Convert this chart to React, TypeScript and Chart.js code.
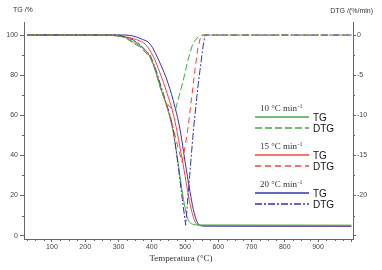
import React, { useEffect, useRef } from 'react';
import { Chart, registerables } from 'chart.js';

Chart.register(...registerables);

// Temperature (°C) / TG (%) for each heating rate
const tempTG10 = [25, 250, 283, 320, 344, 365, 395, 410, 425, 440, 455, 465, 476, 491, 500, 506, 515, 525, 540, 560, 1000];
const tg10 = [100, 100, 99.7, 98.8, 96.5, 94.5, 89, 82.6, 74.5, 67, 58.5, 51, 40, 22.5, 14, 9.5, 6.5, 5.6, 5.3, 5.3, 5.2];

const tempTG15 = [25, 290, 325, 365, 380, 404, 425, 446, 464, 476, 485, 500, 510, 521, 530, 539, 560, 1000];
const tg15 = [100, 100, 99, 97, 95.5, 89.5, 81, 71, 61, 52, 44, 30, 20, 11.5, 7, 5.3, 5, 4.9];

const tempTG20 = [25, 320, 344, 370, 395, 425, 449, 470, 485, 491, 500, 515, 525, 536, 545, 560, 1000];
const tg20 = [100, 100, 99.5, 98, 95.5, 86, 76, 64, 53, 47, 37, 22, 13, 7, 5, 4.7, 4.6];

// Temperature (°C) / DTG (%/min) for each heating rate
const tempDTG10 = [25, 280, 320, 344, 365, 395, 410, 425, 440, 455, 472, 495, 509, 524, 540, 551, 1000];
const dtg10 = [0, 0, -0.3, -1, -1.5, -2.75, -4.3, -6.5, -8.2, -9.0, -9.2, -5.6, -3.1, -1.0, -0.2, 0, 0];

const tempDTG15 = [25, 290, 330, 365, 395, 410, 425, 440, 455, 470, 482, 491, 500, 509, 520, 530, 539, 546, 551, 1000];
const dtg15 = [0, 0, -0.4, -1.2, -2.6, -4.2, -6.3, -8.1, -10.1, -12.5, -14.5, -15.8, -14.0, -11.6, -7.8, -4.3, -1.5, -0.4, 0, 0];

const tempDTG20 = [25, 300, 340, 365, 395, 410, 425, 440, 455, 465, 480, 492, 502, 514, 526, 540, 554, 560, 1000];
const dtg20 = [0, 0, -0.5, -1.2, -2.5, -4.0, -6.0, -8.0, -10.0, -11.8, -16.5, -20.5, -23.7, -17.5, -11.5, -6, -1.5, 0, 0];

const tgTicks = [0, 20, 40, 60, 80, 100];
const dtgTicks = [-20, -15, -10, -5, 0];
const tempLabels = [100, 200, 300, 400, 500, 600, 700, 800, 900];

const rateLabels = ['10 °C min', '15 °C min', '20 °C min'];
const GREEN = '#45a842';
const RED = '#f04444';
const BLUE = '#3434a4';

const toXY = (xs: number[], ys: number[]) => xs.map((x, i) => ({ x, y: ys[i] }));

const annotations = {
  id: 'annotations',
  afterDraw(chart: any) {
    const ctx = chart.ctx;
    const x = chart.scales.x;
    const yl = chart.scales.y;
    const yr = chart.scales.y2;
    ctx.save();
    // minor ticks
    ctx.strokeStyle = '#666';
    ctx.lineWidth = 1;
    ctx.setLineDash([]);
    ctx.beginPath();
    for (let v = 10; v <= 100; v += 20) {
      const p = Math.round(yl.getPixelForValue(v)) + 0.5;
      ctx.moveTo(chart.chartArea.left - 2, p);
      ctx.lineTo(chart.chartArea.left, p);
    }
    for (let v = -22.5; v <= 0; v += 5) {
      const p = Math.round(yr.getPixelForValue(v)) + 0.5;
      ctx.moveTo(chart.chartArea.right, p);
      ctx.lineTo(chart.chartArea.right + 2, p);
    }
    for (let v = 25; v <= 1000; v += 25) {
      if (v % 100 === 0) continue;
      const p = Math.round(x.getPixelForValue(v)) + 0.5;
      ctx.moveTo(p, chart.chartArea.bottom);
      ctx.lineTo(p, chart.chartArea.bottom + 2);
    }
    ctx.stroke();

    // axis titles
    ctx.fillStyle = '#333';
    ctx.font = '7px "Liberation Sans", Arial, sans-serif';
    ctx.textBaseline = 'middle';
    ctx.textAlign = 'left';
    ctx.fillText('TG /%', 13, 10);
    ctx.textAlign = 'right';
    ctx.fillText('DTG /(%/min)', 373, 11);
    ctx.font = '9px "Liberation Serif", "Times New Roman", serif';
    ctx.textAlign = 'center';
    ctx.fillText('Temperatura (°C)', 181, 259);

    // legend
    const colors = [GREEN, RED, BLUE];
    const dashes = [[7, 3], [6, 4], [7, 2, 2, 2]];
    const baseY = [109, 147, 185];
    for (let i = 0; i < 3; i++) {
      const y0 = baseY[i];
      ctx.font = '9px "Liberation Serif", "Times New Roman", serif';
      const main = rateLabels[i];
      const wMain = ctx.measureText(main).width;
      ctx.font = '6px "Liberation Serif", "Times New Roman", serif';
      const wSup = ctx.measureText('-1').width;
      const startX = 281 - (wMain + wSup) / 2;
      ctx.textAlign = 'left';
      ctx.font = '9px "Liberation Serif", "Times New Roman", serif';
      ctx.fillStyle = '#333';
      ctx.fillText(main, startX, y0);
      ctx.font = '6px "Liberation Serif", "Times New Roman", serif';
      ctx.fillText('-1', startX + wMain + 0.5, y0 - 3);

      ctx.strokeStyle = colors[i];
      ctx.lineWidth = 1.4;
      ctx.setLineDash([]);
      ctx.beginPath();
      ctx.moveTo(255, y0 + 8);
      ctx.lineTo(309, y0 + 8);
      ctx.stroke();
      ctx.setLineDash(dashes[i]);
      ctx.beginPath();
      ctx.moveTo(255, y0 + 19);
      ctx.lineTo(309, y0 + 19);
      ctx.stroke();
      ctx.setLineDash([]);

      ctx.font = '10px "Liberation Sans", Arial, sans-serif';
      ctx.fillStyle = '#111';
      ctx.fillText('TG', 313, y0 + 9);
      ctx.fillText('DTG', 313, y0 + 20);
    }
    ctx.restore();
  },
};

export default function App() {
  const ref = useRef<HTMLCanvasElement>(null);

  useEffect(() => {
    document.body.style.margin = '0';
    const canvas = ref.current;
    if (!canvas) return;
    const tickFont = { family: '"Liberation Sans", Arial, sans-serif', size: 7 };
    const chart = new Chart(canvas, {
      type: 'line',
      data: {
        datasets: [
          { data: toXY(tempDTG10, dtg10), yAxisID: 'y2', borderColor: GREEN, borderDash: [7, 3], borderWidth: 1, pointRadius: 0, tension: 0 },
          { data: toXY(tempDTG15, dtg15), yAxisID: 'y2', borderColor: RED, borderDash: [6, 4], borderWidth: 1, pointRadius: 0, tension: 0 },
          { data: toXY(tempDTG20, dtg20), yAxisID: 'y2', borderColor: BLUE, borderDash: [7, 2, 2, 2], borderWidth: 1, pointRadius: 0, tension: 0 },
          { data: toXY(tempTG10, tg10), yAxisID: 'y', borderColor: GREEN, borderWidth: 1, pointRadius: 0, cubicInterpolationMode: 'monotone' },
          { data: toXY(tempTG15, tg15), yAxisID: 'y', borderColor: RED, borderWidth: 1, pointRadius: 0, cubicInterpolationMode: 'monotone' },
          { data: toXY(tempTG20, tg20), yAxisID: 'y', borderColor: BLUE, borderWidth: 1, pointRadius: 0, cubicInterpolationMode: 'monotone' },
        ],
      },
      options: {
        responsive: false,
        animation: false,
        events: [],
        layout: { padding: { top: 22, left: 0, right: 0, bottom: 0 } },
        plugins: { legend: { display: false }, tooltip: { enabled: false } },
        scales: {
          x: {
            type: 'linear',
            min: 16,
            max: 1005,
            border: { display: true, color: '#666', width: 1 },
            grid: { display: true, drawOnChartArea: false, drawTicks: true, tickLength: 3, color: '#666' },
            ticks: {
              stepSize: 100,
              includeBounds: false,
              padding: 1,
              color: '#444',
              font: tickFont,
              maxRotation: 0,
              autoSkip: false,
              callback: (v: any) => (tempLabels.includes(Number(v)) ? String(v) : ''),
            },
            afterFit: (s: any) => { s.height = 31; },
          },
          y: {
            type: 'linear',
            position: 'left',
            min: -1.7,
            max: 106.5,
            border: { display: true, color: '#666', width: 1 },
            grid: { display: true, drawOnChartArea: false, drawTicks: true, tickLength: 4, color: '#666' },
            ticks: {
              stepSize: 20,
              includeBounds: false,
              padding: 2,
              color: '#444',
              font: tickFont,
              callback: (v: any) => (tgTicks.includes(Number(v)) ? String(v) : ''),
            },
            afterFit: (s: any) => { s.width = 24; },
          },
          y2: {
            type: 'linear',
            position: 'right',
            min: -25.425,
            max: 1.625,
            border: { display: true, color: '#666', width: 1 },
            grid: { display: true, drawOnChartArea: false, drawTicks: true, tickLength: 3, color: '#666' },
            ticks: {
              stepSize: 5,
              includeBounds: false,
              padding: 1,
              color: '#444',
              font: tickFont,
              callback: (v: any) => (dtgTicks.includes(Number(v)) ? String(v) : ''),
            },
            afterFit: (s: any) => { s.width = 29; },
          },
        },
      },
      plugins: [annotations],
    } as any);
    return () => chart.destroy();
  }, []);

  return (
    <div style={{ width: 382, height: 270, background: '#fff' }}>
      <canvas ref={ref} width={382} height={270} style={{ display: 'block' }} />
    </div>
  );
}
